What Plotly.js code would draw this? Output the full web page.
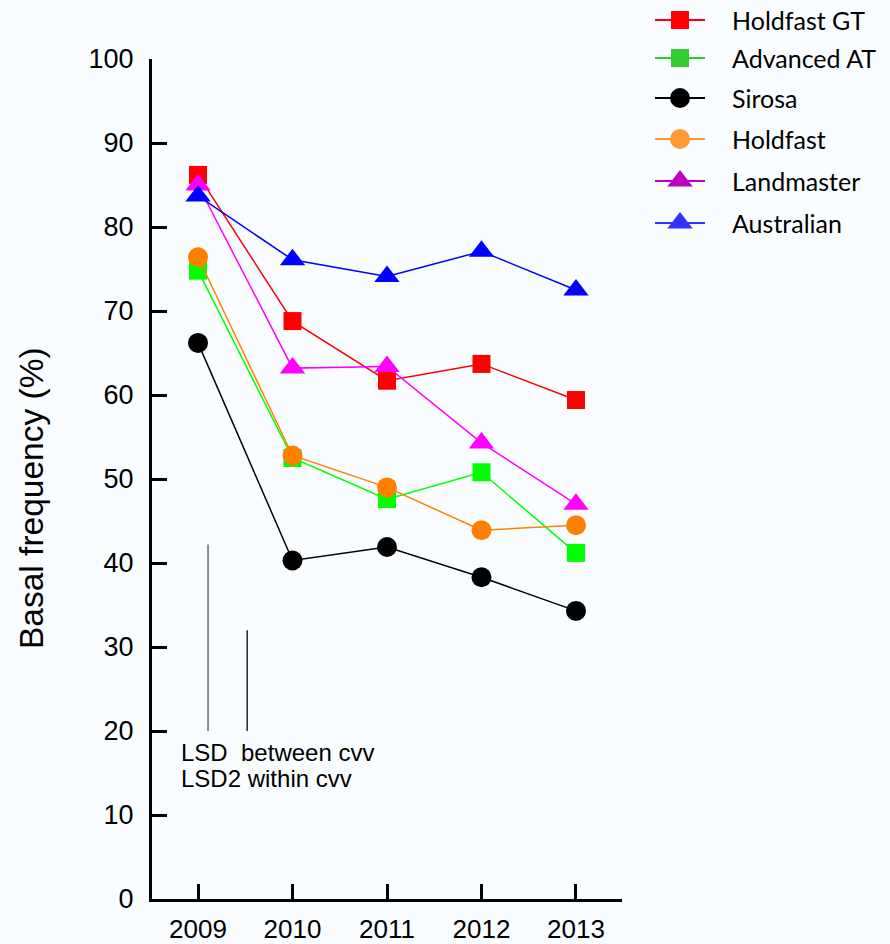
<!DOCTYPE html>
<html>
<head>
<meta charset="utf-8">
<script src="https://cdn.plot.ly/plotly-3.0.1.min.js"></script>
<style>html,body{margin:0;padding:0;background:#fafdff;}#chart{width:890px;height:944px;}</style>
</head>
<body>
<div id="chart"></div>
<script>
// ---- data ----
const years = [2009, 2010, 2011, 2012, 2013];
const holdfastGT  = [86.2, 68.8, 61.7, 63.7, 59.4];
const advancedAT  = [74.8, 52.5, 47.6, 50.8, 41.2];
const sirosa      = [66.2, 40.3, 41.9, 38.3, 34.3];
const holdfast    = [76.4, 52.8, 49.0, 43.9, 44.5];
const landmaster  = [85.0, 63.2, 63.4, 54.3, 47.0];
const australian  = [83.7, 76.1, 74.1, 77.1, 72.5];
const seriesNames = ['Holdfast GT', 'Advanced AT', 'Sirosa', 'Holdfast', 'Landmaster', 'Australian'];
const yTickVals = [0, 10, 20, 30, 40, 50, 60, 70, 80, 90, 100];
const lsdBase = 20;
const lsdValues = [22.2, 12.0];
const lsdLabels = ['LSD\u00a0 between cvv', 'LSD2 within cvv'];
const yTitle = 'Basal frequency (%)';

// ---- styles / layout helpers ----
const seriesData = [holdfastGT, advancedAT, sirosa, holdfast, landmaster, australian];
const plotColors = ['#ff0000', '#00ff00', '#000000', '#ff8000', '#ff00ff', '#0000ff'];
const legendColors = ['#ff0000', '#33cc33', '#000000', '#ff9933', '#c000c0', '#3333ff'];
const symbols = ['square', 'square', 'circle', 'circle', 'triangle-up', 'triangle-up'];
const plotSizes = [18, 18, 20, 20, 22, 22];
const legendSizes = [18, 18, 20, 20, 22, 22];
const legendRowPx = [20, 58, 98, 139, 181, 223];

const traces = [];
seriesData.forEach((vals, i) => {
  traces.push({
    type: 'scatter', mode: 'lines+markers', x: years, y: vals, name: seriesNames[i],
    showlegend: false, cliponaxis: false,
    line: {color: plotColors[i], width: 1.5},
    marker: {symbol: symbols[i], size: plotSizes[i], color: plotColors[i], opacity: 1, line: {width: 0}},
    xaxis: 'x', yaxis: 'y'
  });
});
// LSD bars
const lsdX = [2009.106, 2009.52];
const lsdCol = ['#555555', '#000000'];
lsdValues.forEach((v, i) => {
  traces.push({
    type: 'scatter', mode: 'lines', x: [lsdX[i], lsdX[i]], y: [lsdBase, lsdBase + v],
    line: {color: lsdCol[i], width: 1.3}, showlegend: false, hoverinfo: 'skip',
    xaxis: 'x', yaxis: 'y'
  });
});
// custom legend (overlay axes)
seriesNames.forEach((n, i) => {
  const r = legendRowPx[i];
  traces.push({
    type: 'scatter', mode: 'lines+markers', x: [0, 0.5, 1], y: [r, r, r],
    line: {color: legendColors[i], width: 2},
    marker: {symbol: symbols[i], size: [0, legendSizes[i], 0], color: legendColors[i], opacity: 1, line: {width: 0}},
    showlegend: false, hoverinfo: 'skip', cliponaxis: false,
    xaxis: 'x2', yaxis: 'y2'
  });
});

const W = 890, H = 944;
const xL = 152, xR = 622, yT = 59, yB = 899;
const annotations = [];
seriesNames.forEach((n, i) => {
  annotations.push({
    xref: 'x2', yref: 'y2', x: 1.50, y: legendRowPx[i], text: n, showarrow: false,
    xanchor: 'left', yanchor: 'middle',
    font: {family: 'Lato, "Liberation Sans", Arial, sans-serif', size: 25, color: '#000'}
  });
});
const lsdTextY = [17.5, 14.4];
lsdLabels.forEach((t, i) => {
  annotations.push({
    xref: 'x', yref: 'y', x: 2008.80, y: lsdTextY[i], text: t, showarrow: false,
    xanchor: 'left', yanchor: 'middle',
    font: {family: '"Liberation Sans", Arial, sans-serif', size: 24, color: '#000'}
  });
});
annotations.push({
  xref: 'paper', yref: 'paper', x: 31 / W, y: 1 - 498 / H, text: yTitle, showarrow: false,
  textangle: -90, xanchor: 'center', yanchor: 'middle',
  font: {family: '"Liberation Sans", Arial, sans-serif', size: 33.5, color: '#000'}
});

const layout = {
  width: W, height: H,
  margin: {l: 0, r: 0, t: 0, b: 0},
  paper_bgcolor: '#fafdff', plot_bgcolor: '#fafdff',
  showlegend: false,
  xaxis: {
    domain: [xL / W, xR / W], range: [2008.513, 2013.487],
    tickvals: years, ticktext: years.map(String),
    showline: true, linewidth: 3, linecolor: '#000',
    ticks: 'inside', ticklen: 15, tickwidth: 3, tickcolor: '#000',
    showgrid: false, zeroline: false,
    tickfont: {family: '"Liberation Sans", Arial, sans-serif', size: 26, color: '#000'},
    ticklabelstandoff: 5
  },
  yaxis: {
    domain: [1 - yB / H, 1 - yT / H], range: [0, 100],
    tickvals: yTickVals,
    showline: true, linewidth: 3, linecolor: '#000',
    ticks: 'inside', ticklen: 15, tickwidth: 3, tickcolor: '#000',
    showgrid: false, zeroline: false,
    tickfont: {family: '"Liberation Sans", Arial, sans-serif', size: 27, color: '#000'},
    ticklabelstandoff: 10
  },
  xaxis2: {domain: [655 / W, 1], range: [0, 235 / 50], visible: false, fixedrange: true},
  yaxis2: {domain: [1 - 250 / H, 1], range: [250, 0], visible: false, fixedrange: true},
  annotations: annotations
};

Plotly.newPlot('chart', traces, layout, {displayModeBar: false, staticPlot: true});
</script>
</body>
</html>
